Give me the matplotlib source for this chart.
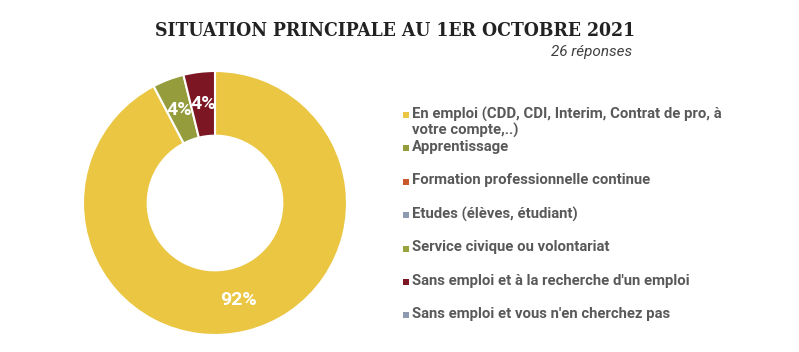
import numpy as np
import matplotlib.pyplot as plt
from matplotlib.patches import Rectangle

W, H = 799, 352

categories = [
    "En emploi (CDD, CDI, Interim, Contrat de pro, à\nvotre compte,..)",
    "Apprentissage",
    "Formation professionnelle continue",
    "Etudes (élèves, étudiant)",
    "Service civique ou volontariat",
    "Sans emploi et à la recherche d'un emploi",
    "Sans emploi et vous n'en cherchez pas",
]
counts = [24, 1, 0, 0, 0, 1, 0]
colors = ["#EAC643", "#949C3B", "#C9592B", "#8E9AB0", "#9AA23C", "#7B1622", "#8E9AB0"]


def px(x, y):
    """pixel coords (top-left origin) -> figure fraction"""
    return x / W, 1 - y / H


fig = plt.figure(figsize=(W / 100, H / 100), dpi=100)
fig.patch.set_facecolor("white")

# donut
cx, cy, r = 215, 203, 132
ax = fig.add_axes([(cx - r) / W, 1 - (cy + r) / H, 2 * r / W, 2 * r / H])
nz = [(c, col) for c, col in zip(counts, colors) if c > 0]
total = sum(counts)
wedges, _ = ax.pie([c for c, _ in nz], colors=[col for _, col in nz],
                   startangle=90, counterclock=False, radius=1,
                   wedgeprops=dict(width=0.49, edgecolor="white", linewidth=1.5))
ax.set_xlim(-1, 1)
ax.set_ylim(-1, 1)
ax.set_aspect("equal")

start = 90
for c, w in zip([c for c, _ in nz], wedges):
    span = 360 * c / total
    mid = np.deg2rad(start - span / 2)
    start -= span
    rr = 1 - 0.49 / 2
    ax.text(rr * np.cos(mid), rr * np.sin(mid), f"{round(100 * c / total)}%",
            ha="center", va="center", color="white", fontsize=14,
            fontweight="bold", family="Roboto")

# titles
fig.text(*px(395, 31), "SITUATION PRINCIPALE AU 1ER OCTOBRE 2021",
         ha="center", va="center", fontsize=13.9, fontweight="bold",
         family="DejaVu Serif", fontstretch="condensed", color="#222222")
fig.text(*px(632, 52), "26 réponses", ha="right", va="center",
         fontsize=11, style="italic", family="Roboto", color="#404040")

# legend
for i, (lab, col) in enumerate(zip(categories, colors)):
    y = 115 + i * 33.4
    fx, fy = px(403, y + 3)
    fig.patches.append(Rectangle((fx, fy), 6 / W, 6 / H, transform=fig.transFigure,
                                 facecolor=col, edgecolor="none"))
    fig.text(*px(412, y - 8.5), lab, ha="left", va="top", fontsize=10.7,
             fontweight="bold", family="Roboto", color="#595959",
             linespacing=1.1)

fig.savefig("out.png", dpi=100, facecolor="white")
